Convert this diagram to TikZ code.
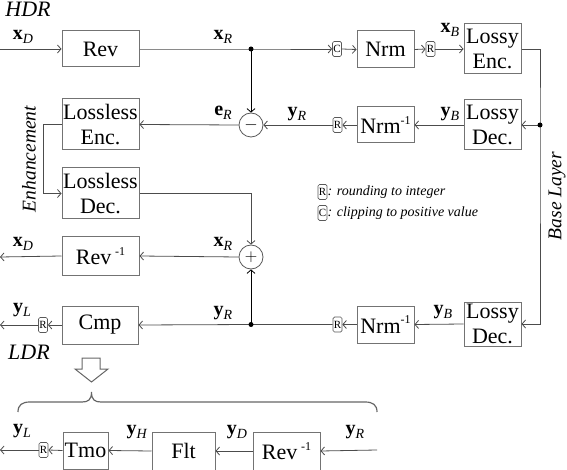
\documentclass[tikz,border=0pt]{standalone}
\usepackage{fontspec}
\setmainfont{Liberation Serif}
\usetikzlibrary{arrows.meta}
\newcommand\lbl[2]{\textbf{#1}\raisebox{-0.22em}{\fontsize{14}{14}\selectfont\textit{#2}}}
\newcommand\inv{\raisebox{0.42em}{\fontsize{12}{12}\selectfont -1}}
\begin{document}
\begin{tikzpicture}[x=1pt,y=-1pt,
  box/.style={draw=black!55, line width=1pt, fill=white, inner sep=0pt, font=\fontsize{22}{25}\selectfont, align=center},
  sbox/.style={draw=black!65, line width=0.7pt, rounded corners=1.5pt, minimum width=9pt, minimum height=15pt, inner sep=0pt, font=\fontsize{11}{11}\selectfont},
  op/.style={draw=black!65, circle, line width=0.8pt, minimum size=24pt, inner sep=0pt, font=\fontsize{18}{18}\selectfont},
  ln/.style={draw=black!70, line width=0.8pt},
  arr/.style={ln, -{Straight Barb[length=3.5pt,width=8pt]}},
  lab/.style={font=\fontsize{20}{20}\selectfont, inner sep=0pt},
  ital/.style={font=\fontsize{22}{22}\selectfont\itshape, inner sep=0pt},
  side/.style={font=\fontsize{19.5}{19.5}\selectfont\itshape, inner sep=0pt, rotate=90},
  legend/.style={font=\fontsize{14}{14}\selectfont\itshape, inner sep=0pt, anchor=west}]
\useasboundingbox (0,0) rectangle (567,470);

% boxes
\node[box, minimum width=77pt, minimum height=36pt] (rev) at (100.5,49) {Rev};
\node[box, minimum width=77pt, minimum height=51pt] (lenc) at (100.5,124.5) {Lossless\\Enc.};
\node[box, minimum width=77pt, minimum height=51pt] (ldec) at (100.5,193.5) {Lossless\\Dec.};
\node[box, minimum width=77pt, minimum height=38pt] (revi) at (100.5,256) {Rev\,\inv};
\node[box, minimum width=76pt, minimum height=38pt] (cmp) at (100,325) {Cmp};
\node[box, minimum width=57pt, minimum height=37pt] (nrm) at (385.5,49.5) {Nrm};
\node[box, minimum width=57pt, minimum height=36pt] (nrmi) at (385.5,125) {Nrm\inv};
\node[box, minimum width=57pt, minimum height=37pt] (nrmib) at (385.5,324.5) {Nrm\inv};
\node[box, minimum width=57pt, minimum height=50pt] (lossyenc) at (492.5,49) {Lossy\\Enc.};
\node[box, minimum width=57pt, minimum height=50pt] (lossydec) at (492.5,125) {Lossy\\Dec.};
\node[box, minimum width=57pt, minimum height=44pt] (lossydecb) at (492.5,324) {Lossy\\Dec.};
\node[op] (minus) at (251,125) {$-$};
\node[op] (plus) at (251,257) {$+$};

% small boxes
\node[sbox] (c1) at (337,49) {C};
\node[sbox] (r1) at (430.5,49) {R};
\node[sbox] (r2) at (337.5,125) {R};
\node[sbox] (r3) at (337.5,324.5) {R};
\node[sbox] (r4) at (43,325) {R};

% bottom row
\node[box, minimum width=45pt, minimum height=37pt] (tmo) at (85.5,450.5) {Tmo};
\node[box, minimum width=63pt, minimum height=38pt] (flt) at (183.5,451) {Flt};
\node[box, minimum width=67pt, minimum height=38pt] (revb) at (286.5,451) {Rev\,\inv};
\node[sbox] (r5) at (43.5,450) {R};

% coordinates
\coordinate (in1) at (0,49);
\coordinate (out1) at (0,257);
\coordinate (out2) at (0,325);
\coordinate (out3) at (0,450);
\coordinate (inb) at (377,450);
\coordinate (d1) at (251,49);
\coordinate (d2) at (540,125);
\coordinate (d3) at (251,324.5);
\coordinate (e1) at (43,124.5);

% connectors
\draw[arr] (in1) -- (rev.west);
\draw[arr] (rev.east) -- (d1) -- (c1.west);
\draw[arr] (c1.east) -- (nrm.west);
\draw[arr] (nrm.east) -- (r1.west);
\draw[arr] (r1.east) -- (lossyenc.west);
\draw[arr] (lossyenc.east) -| (d2) |- (lossydecb.east);
\draw[arr] (d2) -- (lossydec.east);
\draw[arr] (lossydec.west) -- (nrmi.east);
\draw[arr] (nrmi.west) -- (r2.east);
\draw[arr] (r2.west) -- (minus.east);
\draw[arr, draw=black] (d1) -- (minus.north);
\draw[arr] (minus.west) -- (lenc.east);
\draw[arr] (lenc.west) -- (e1) |- (ldec.west);
\draw[arr] (ldec.east) -| (plus.north);
\draw[arr] (plus.west) -- (revi.east);
\draw[arr] (revi.west) -- (out1);
\draw[arr] (lossydecb.west) -- (nrmib.east);
\draw[arr] (nrmib.west) -- (r3.east);
\draw[arr] (r3.west) -- (d3) -- (cmp.east);
\draw[arr, draw=black] (d3) -- (plus.south);
\draw[arr] (cmp.west) -- (r4.east);
\draw[arr] (r4.west) -- (out2);
\draw[arr] (inb) -- (revb.east);
\draw[arr] (revb.west) -- (flt.east);
\draw[arr] (flt.west) -- (tmo.east);
\draw[arr] (tmo.west) -- (r5.east);
\draw[arr] (r5.west) -- (out3);

\fill (d1) circle (2.5pt);
\fill (d2) circle (2.5pt);
\fill (d3) circle (2.5pt);

% labels
\node[lab] at (23,37) {\lbl{x}{D}};
\node[lab] at (223,37) {\lbl{x}{R}};
\node[lab] at (450,30) {\lbl{x}{B}};
\node[lab] at (450,114) {\lbl{y}{B}};
\node[lab] at (297,114) {\lbl{y}{R}};
\node[lab] at (223,113) {\lbl{e}{R}};
\node[lab] at (223,244) {\lbl{x}{R}};
\node[lab] at (23,244) {\lbl{x}{D}};
\node[lab] at (223,313) {\lbl{y}{R}};
\node[lab] at (22,310) {\lbl{y}{L}};
\node[lab] at (443,312) {\lbl{y}{B}};
\node[lab] at (22,431) {\lbl{y}{L}};
\node[lab] at (137,432) {\lbl{y}{H}};
\node[lab] at (237,432) {\lbl{y}{D}};
\node[lab] at (355,432) {\lbl{y}{R}};

\node[ital] (hdr) at (28,9) {HDR};
\node[ital] (ldr) at (29,352) {LDR};
\node[side] (enh) at (29,159) {Enhancement};
\node[side] (base) at (557,196) {Base Layer};

% legend
\node[sbox] (lr) at (322.5,192) {R};
\node[legend] at (lr.east) {: rounding to integer};
\node[sbox] (lc) at (322.5,213) {C};
\node[legend] at (lc.east) {: clipping to positive value};

% hollow arrow
\draw[draw=black!60, line width=1pt, fill=white] (82,358) -- (100,358) -- (100,369) -- (108,369) -- (91.5,382) -- (75,369) -- (82,369) -- cycle;

% brace
\draw[draw=black!60, line width=1.2pt] (18,412) .. controls (18,405) and (22,402) .. (30,402) -- (82,402) .. controls (88,402) and (91.5,400) .. (91.5,392) .. controls (91.5,400) and (95,402) .. (101,402) -- (365,402) .. controls (373,402) and (377,405) .. (377,412);
\end{tikzpicture}
\end{document}
